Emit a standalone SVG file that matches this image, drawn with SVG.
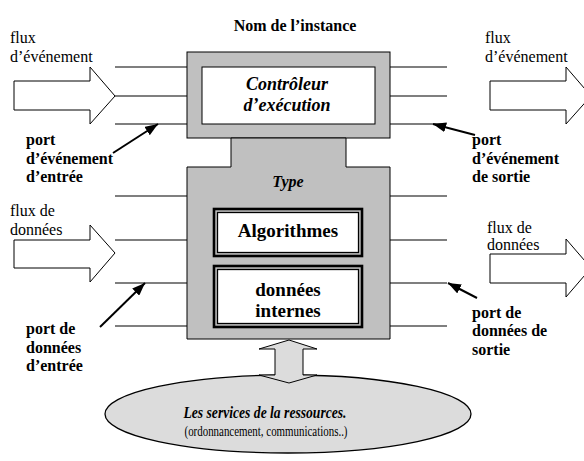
<svg xmlns="http://www.w3.org/2000/svg" width="584" height="461" viewBox="0 0 584 461">
  <style>
    text { font-family: "Liberation Serif", "Tinos", "DejaVu Serif", serif; fill: #000; }
    .lbl { font-size: 16px; }
    .port { font-size: 16px; font-weight: bold; }
    .title { font-size: 16px; font-weight: bold; }
    .bi { font-weight: bold; font-style: italic; }
    .box { fill: #c0c0c0; stroke: #000; stroke-width: 1; }
    .white { fill: #fff; stroke: #000; stroke-width: 1; }
    .flow { fill: #fff; stroke: #000; stroke-width: 1; }
    .pline { stroke: #000; stroke-width: 1.2; fill: none; }
    .ptr { stroke: #000; stroke-width: 2; fill: none; marker-end: url(#head); }
    .dbl-out { fill: none; stroke: #000; stroke-width: 2.6; }
    .dbl-in { fill: #fff; stroke: #000; stroke-width: 1.3; }
  </style>
  <defs>
    <marker id="head" markerUnits="userSpaceOnUse" markerWidth="14" markerHeight="10" refX="13" refY="5" orient="auto">
      <path d="M0,0 L13,5 L0,10 Z" fill="#000"/>
    </marker>
  </defs>

  <rect width="584" height="461" fill="#fff"/>

  <!-- instance name -->
  <g id="title">
    <text class="title" x="295" y="31" text-anchor="middle">Nom de l’instance</text>
  </g>

  <!-- execution controller -->
  <g id="controleur">
    <rect class="box" x="187" y="52" width="203" height="86"/>
    <rect class="white" x="202" y="67" width="173" height="57"/>
    <text class="bi" font-size="18" x="287" y="90" text-anchor="middle">Contrôleur</text>
    <text class="bi" font-size="18" x="287" y="111" text-anchor="middle">d’exécution</text>
  </g>

  <!-- type body with neck -->
  <g id="type">
    <path class="box" d="M231,138 H346 V167 H390 V339 H187 V167 H231 Z"/>
    <text class="bi" font-size="16" x="288" y="187" text-anchor="middle">Type</text>
  </g>

  <g id="algorithmes">
    <rect class="dbl-out" x="214" y="209" width="148" height="47"/>
    <rect class="dbl-in" x="217.5" y="212.5" width="141" height="40"/>
    <text font-size="19" font-weight="bold" x="288" y="237" text-anchor="middle">Algorithmes</text>
  </g>

  <g id="donnees-internes">
    <rect class="dbl-out" x="214" y="266" width="148" height="61"/>
    <rect class="dbl-in" x="217.5" y="269.5" width="141" height="54"/>
    <text font-size="19" font-weight="bold" x="288" y="296" text-anchor="middle">données</text>
    <text font-size="19" font-weight="bold" x="288" y="317" text-anchor="middle">internes</text>
  </g>

  <!-- resource services -->
  <g id="services">
    <ellipse cx="288" cy="414" rx="183" ry="39" fill="#dcdcdc" stroke="#000" stroke-width="1.3"/>
    <text class="bi" font-size="17" x="265" y="418" text-anchor="middle" textLength="163" lengthAdjust="spacingAndGlyphs">Les services de la ressources.</text>
    <text font-size="15.5" x="266" y="436" text-anchor="middle" textLength="163" lengthAdjust="spacingAndGlyphs">(ordonnancement, communications..)</text>
  </g>

  <!-- block flow arrows -->
  <g id="flux-evenement-entree">
    <polygon class="flow" points="14,81 90,81 90,67 115,96 90,124 90,110 14,110"/>
    <text class="lbl" x="10" y="43">flux</text>
    <text class="lbl" x="10" y="62">d’événement</text>
  </g>
  <g id="flux-donnees-entree">
    <polygon class="flow" points="14,240 90,240 90,225 115,253 90,282 90,268 14,268"/>
    <text class="lbl" x="10" y="216">flux de</text>
    <text class="lbl" x="10" y="235">données</text>
  </g>
  <g id="flux-evenement-sortie">
    <polygon class="flow" points="490,81 566,81 566,67 591,96 566,124 566,110 490,110"/>
    <text class="lbl" x="485" y="43">flux</text>
    <text class="lbl" x="485" y="62">d’événement</text>
  </g>
  <g id="flux-donnees-sortie">
    <polygon class="flow" points="490,254 566,254 566,239 591,268 566,297 566,283 490,283"/>
    <text class="lbl" x="487" y="233">flux de</text>
    <text class="lbl" x="487" y="250">données</text>
  </g>

  <!-- port labels -->
  <g id="port-evenement-entree">
    <text class="port" x="26" y="145">port</text>
    <text class="port" x="26" y="164">d’événement</text>
    <text class="port" x="26" y="182">d’entrée</text>
  </g>
  <g id="port-evenement-sortie">
    <text class="port" x="472" y="145">port</text>
    <text class="port" x="472" y="164">d’événement</text>
    <text class="port" x="472" y="182">de sortie</text>
  </g>
  <g id="port-donnees-entree">
    <text class="port" x="26" y="334">port de</text>
    <text class="port" x="26" y="353">données</text>
    <text class="port" x="26" y="371">d’entrée</text>
  </g>
  <g id="port-donnees-sortie">
    <text class="port" x="472" y="318">port de</text>
    <text class="port" x="472" y="336">données de</text>
    <text class="port" x="472" y="355">sortie</text>
  </g>

  <!-- connectors: port lines, pointers, service link -->
  <g id="connectors">
    <path class="pline" d="M115,67 H187 M115,96 H187 M115,124 H187
                           M390,67 H447 M390,96 H447 M390,124 H447
                           M115,196 H187 M115,240 H187 M115,283 H187 M115,326 H187
                           M390,196 H447 M390,240 H447 M390,283 H447 M390,326 H447"/>
    <line class="ptr" x1="113" y1="153" x2="158" y2="124"/>
    <line class="ptr" x1="475" y1="135" x2="433" y2="124"/>
    <line class="ptr" x1="100" y1="327" x2="145" y2="283"/>
    <line class="ptr" x1="477" y1="298" x2="448" y2="283"/>
    <polygon points="289,340 317,349 303,349 303,375 317,375 289,383 259,375 275,375 275,349 259,349" fill="#dcdcdc" stroke="#000" stroke-width="1"/>
  </g>
</svg>
